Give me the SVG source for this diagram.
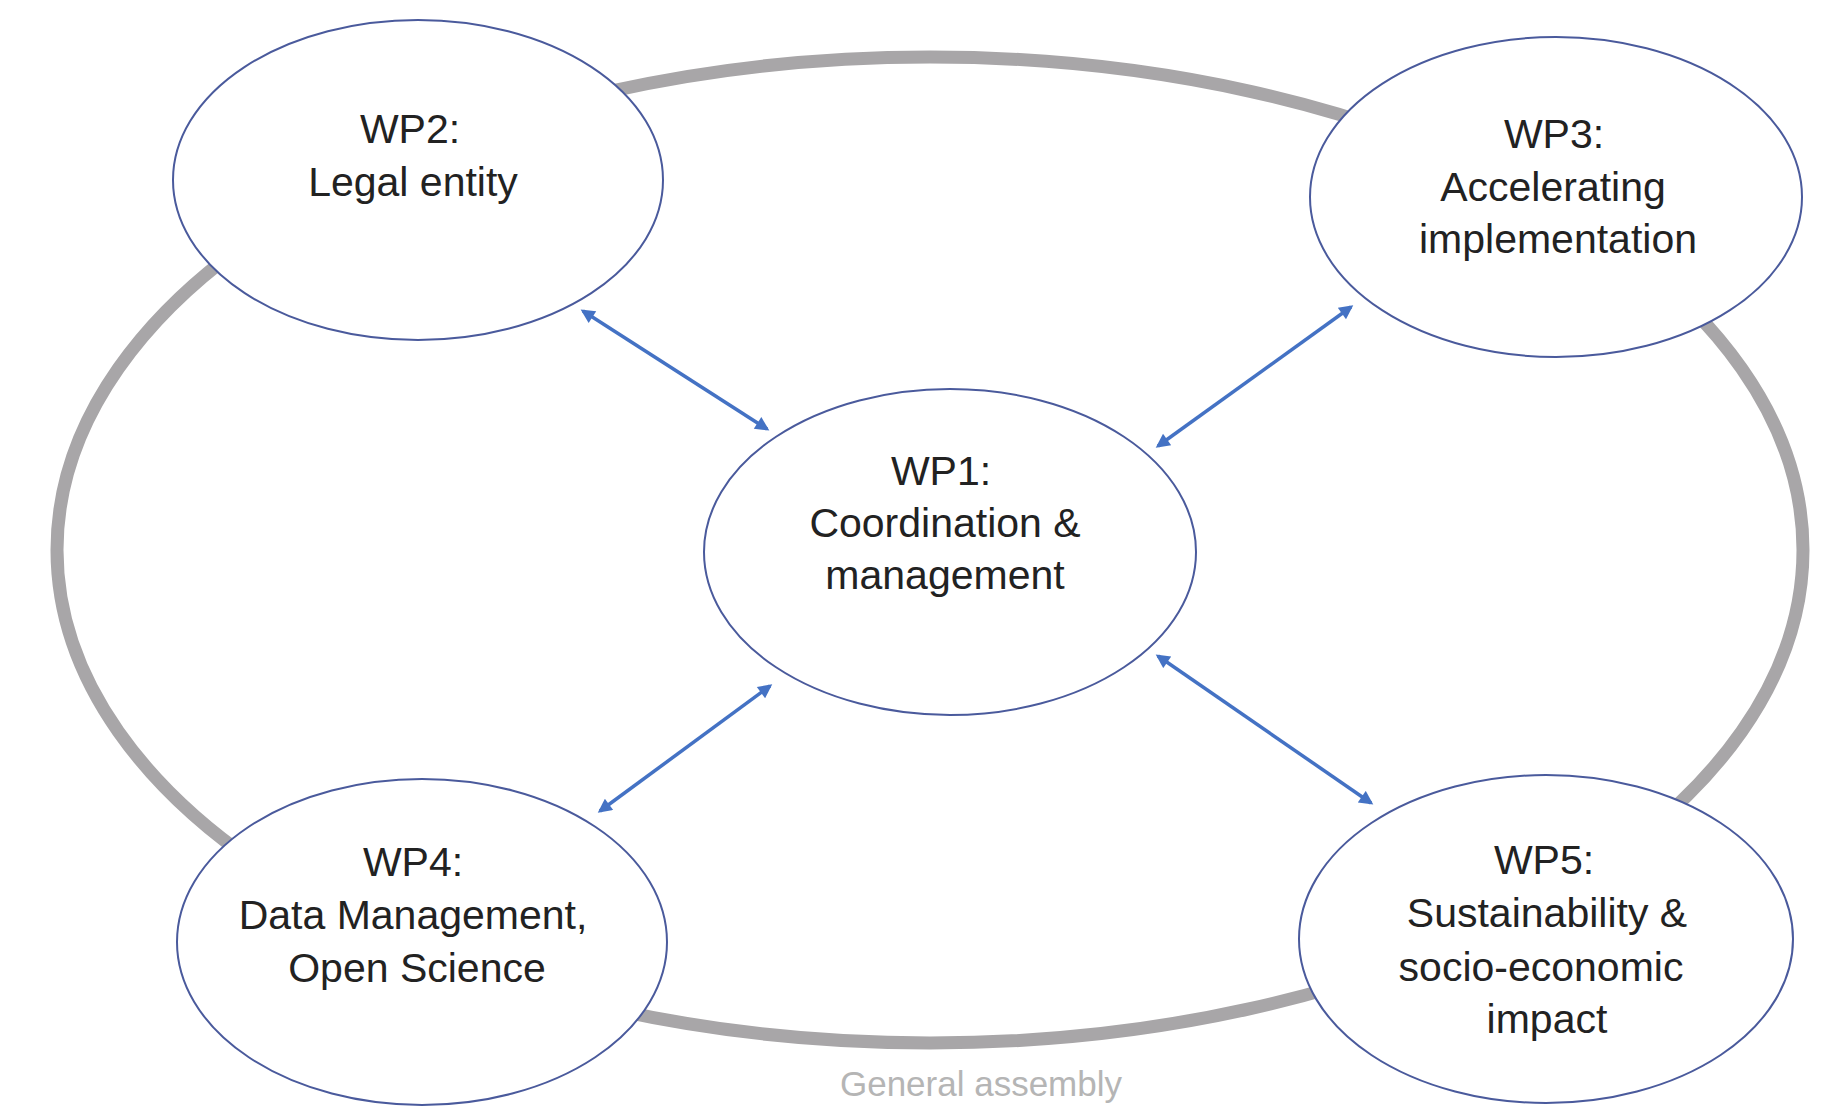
<svg xmlns="http://www.w3.org/2000/svg" width="1825" height="1106" viewBox="0 0 1825 1106">
  <style>
    .node { fill: #ffffff; stroke: #4a5a9c; stroke-width: 2; }
    .lbl { font-family: "Liberation Sans", Arial, sans-serif; font-size: 41px; fill: #222222; text-anchor: middle; }
    .conn { stroke: #4472c4; stroke-width: 3.5; fill: none; marker-start: url(#ah); marker-end: url(#ah); }
    .ga { font-family: "Liberation Sans", Arial, sans-serif; font-size: 35px; fill: #b5b5b5; text-anchor: middle; }
  </style>
  <defs>
    <marker id="ah" viewBox="0 0 10 10" refX="8" refY="5" markerWidth="4.5" markerHeight="4" orient="auto-start-reverse" markerUnits="strokeWidth">
      <path d="M0,0 L10,5 L0,10 Z" fill="#4472c4"/>
    </marker>
  </defs>
  <rect width="1825" height="1106" fill="#ffffff"/>

  <g id="general-assembly">
    <ellipse cx="930" cy="550" rx="873" ry="493" fill="none" stroke="#a8a6a8" stroke-width="13"/>
    <text class="ga" x="981" y="1096">General assembly</text>
  </g>

  <g id="connectors">
    <line class="conn" x1="583" y1="311" x2="767" y2="429"/>
    <line class="conn" x1="1351" y1="307" x2="1158" y2="446"/>
    <line class="conn" x1="770" y1="686" x2="600" y2="811"/>
    <line class="conn" x1="1158" y1="656" x2="1371" y2="803"/>
  </g>

  <g id="wp2">
    <ellipse class="node" cx="418" cy="180" rx="245" ry="160"/>
    <text class="lbl" x="410" y="143">WP2:</text>
    <text class="lbl" x="413" y="196">Legal entity</text>
  </g>

  <g id="wp3">
    <ellipse class="node" cx="1556" cy="197" rx="246" ry="160"/>
    <text class="lbl" x="1554" y="148">WP3:</text>
    <text class="lbl" x="1553" y="201">Accelerating</text>
    <text class="lbl" x="1558" y="253">implementation</text>
  </g>

  <g id="wp1">
    <ellipse class="node" cx="950" cy="552" rx="246" ry="163"/>
    <text class="lbl" x="941" y="485">WP1:</text>
    <text class="lbl" x="945" y="537">Coordination &amp;</text>
    <text class="lbl" x="945" y="589">management</text>
  </g>

  <g id="wp4">
    <ellipse class="node" cx="422" cy="942" rx="245" ry="163"/>
    <text class="lbl" x="413" y="876">WP4:</text>
    <text class="lbl" x="413" y="929">Data Management,</text>
    <text class="lbl" x="417" y="982">Open Science</text>
  </g>

  <g id="wp5">
    <ellipse class="node" cx="1546" cy="939" rx="247" ry="164"/>
    <text class="lbl" x="1544" y="874">WP5:</text>
    <text class="lbl" x="1547" y="927">Sustainability &amp;</text>
    <text class="lbl" x="1541" y="981">socio-economic</text>
    <text class="lbl" x="1547" y="1033">impact</text>
  </g>
</svg>
